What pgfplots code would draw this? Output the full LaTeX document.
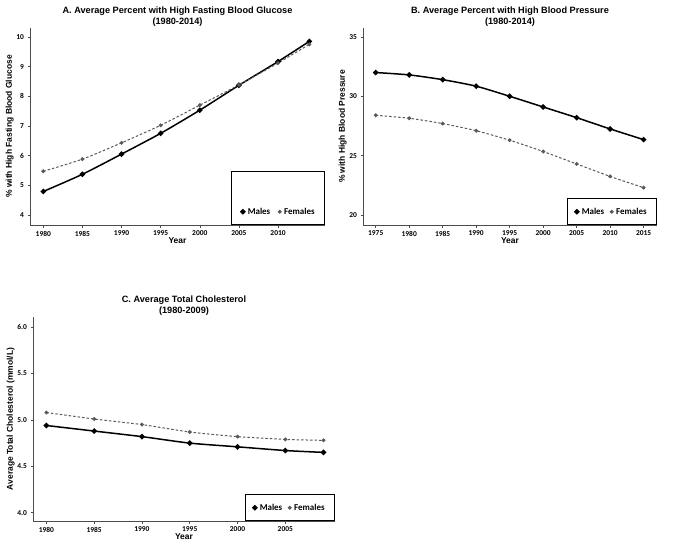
\documentclass[border=0pt]{standalone}
\usepackage{fontspec}
\setmainfont{Liberation Sans}
\newfontfamily\tickfont{Carlito}
\usepackage{pgfplots}
\pgfplotsset{compat=1.18}

\pgfplotsset{
  panel/.style={
    scale only axis,
    axis lines*=left,
    axis line style={line width=0.9bp, black!70},
    tick style={black!70, line width=0.6bp},
    tick align=outside,
    major tick length=2.5bp,
    tick label style={font=\fontsize{7.5}{8}\tickfont\bfseries},
    /pgf/number format/1000 sep={},
    /pgf/number format/assume math mode=true,
    xlabel={Year},
    label style={font=\fontsize{8.5}{10}\selectfont\bfseries},
    xlabel style={yshift=5bp},
    ylabel style={yshift=-4bp},
    title style={font=\fontsize{9.2}{11.5}\selectfont\bfseries, align=center, yshift=-8bp},
    legend columns=2,
    legend style={at={(1,0)}, anchor=south east, draw=black, line width=0.8bp,
      font=\fontsize{9}{10}\tickfont\bfseries, inner xsep=8bp, inner ysep=7bp,
      /tikz/every even column/.append style={column sep=4bp},
      /tikz/every odd column/.append style={column sep=1bp}},
    legend image code/.code={\draw[#1] plot[only marks] coordinates {(0.12cm,0cm)};},
  },
  males/.style={black, line width=1.5bp, mark=*, mark size=1.9bp, smooth, tension=0.4},
  females/.style={black!65, line width=1bp, dash pattern=on 2.5bp off 2bp,
    mark=*, mark size=1.4bp, mark options={solid}, smooth, tension=0.4},
}

\begin{document}
\begin{tikzpicture}
\path[fill=white] (0bp,0bp) rectangle (685bp,-548bp);

% Panel A
\begin{axis}[panel, at={(30bp,-225bp)}, anchor=south west,
  width=295bp, height=197bp,
  xmin=1978.3, xmax=2016, ymin=3.66, ymax=10.3,
  xtick={1980,1985,...,2010}, ytick={4,...,10},
  ylabel={\% with High Fasting Blood Glucose},
  title={A. Average Percent with High Fasting Blood Glucose\\(1980-2014)}]
\addlegendimage{empty legend}
\addlegendentry{\rule{0pt}{22bp}}
\addlegendimage{empty legend}
\addlegendentry{}
\addplot[males] coordinates {(1980,4.79) (1985,5.37) (1990,6.05) (1995,6.75) (2000,7.53) (2005,8.37) (2010,9.17) (2014,9.85)};
\addlegendentry{Males}
\addplot[females] coordinates {(1980,5.47) (1985,5.88) (1990,6.43) (1995,7.02) (2000,7.70) (2005,8.38) (2010,9.12) (2014,9.75)};
\addlegendentry{Females}
\end{axis}

% Panel B
\begin{axis}[panel, at={(363bp,-225bp)}, anchor=south west,
  width=294bp, height=197bp,
  xmin=1973.1, xmax=2017, ymin=19.16, ymax=35.75,
  xtick={1975,1980,...,2015}, ytick={20,25,30,35},
  ylabel={\% with High Blood Pressure},
  title={B. Average Percent with High Blood Pressure\\(1980-2014)}]
\addplot[males] coordinates {(1975,32.0) (1980,31.8) (1985,31.4) (1990,30.85) (1995,30.0) (2000,29.1) (2005,28.2) (2010,27.25) (2015,26.35)};
\addlegendentry{Males}
\addplot[females] coordinates {(1975,28.4) (1980,28.15) (1985,27.7) (1990,27.1) (1995,26.3) (2000,25.35) (2005,24.3) (2010,23.25) (2015,22.3)};
\addlegendentry{Females}
\end{axis}

% Panel C
\begin{axis}[panel, at={(33bp,-521bp)}, anchor=south west,
  width=302bp, height=204bp,
  xmin=1978.6, xmax=2010.2, ymin=3.91, ymax=6.11,
  xtick={1980,1985,...,2005}, ytick={4,4.5,...,6},
  yticklabel style={/pgf/number format/.cd, fixed, fixed zerofill, precision=1},
  ylabel={Average Total Cholesterol (mmol/L)},
  title={C. Average Total Cholesterol\\(1980-2009)}]
\addplot[males] coordinates {(1980,4.94) (1985,4.88) (1990,4.82) (1995,4.75) (2000,4.71) (2005,4.67) (2009,4.65)};
\addlegendentry{Males}
\addplot[females] coordinates {(1980,5.08) (1985,5.01) (1990,4.95) (1995,4.87) (2000,4.82) (2005,4.79) (2009,4.78)};
\addlegendentry{Females}
\end{axis}
\end{tikzpicture}
\end{document}
